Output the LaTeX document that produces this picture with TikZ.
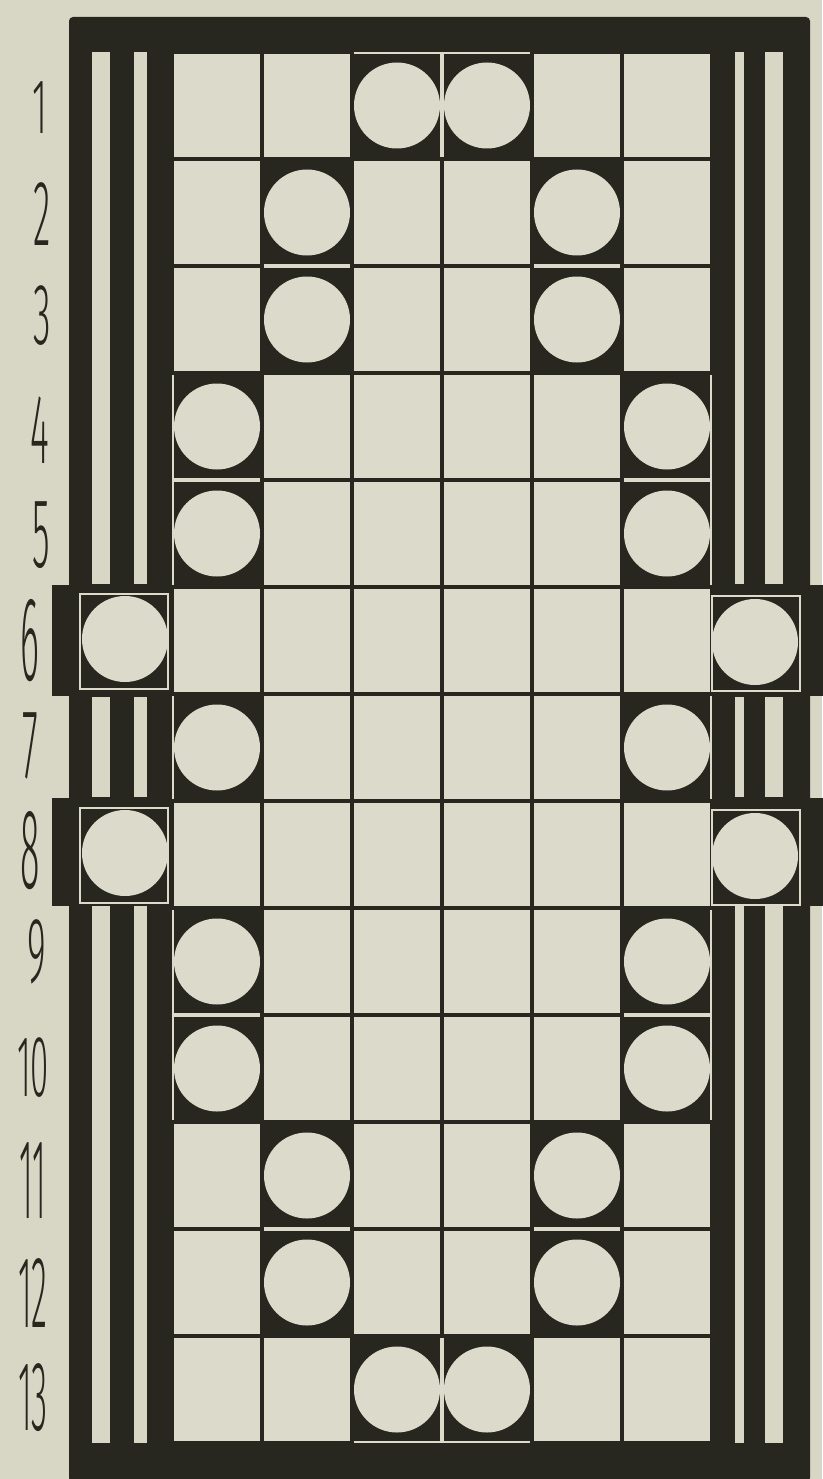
\documentclass[tikz,border=0pt]{standalone}
\usepackage{fontspec}
\newfontfamily\thinfont{Fira Sans Light}
\definecolor{paper}{HTML}{D8D7C6}
\definecolor{cellc}{HTML}{DCDBCB}
\definecolor{ink}{HTML}{28271F}
\tikzset{
  darkfill/.style={fill=ink, draw=none},
  stripe/.style={fill=paper, draw=none},
  lightcell/.style={fill=cellc, draw=ink, line width=4.5pt},
  fineline/.style={draw=cellc, line width=1.8pt},
  piece/.style={fill=cellc, draw=none},
  rowlabel/.style={inner sep=0pt, text=ink}
}
\newcommand{\lbl}[3]{\scalebox{#1}[#2]{\fontsize{60}{60}\selectfont\thinfont #3}}
\begin{document}
\begin{tikzpicture}[x=1pt,y=-1pt]
\useasboundingbox[fill=paper] (0,0) rectangle (822,1479);
% outer frame
\fill[ink, rounded corners=4pt] (69,17) rectangle (810,1482);
% side bands of rows 6 and 8
\fill[ink] (52,585) rectangle (830,696);
\fill[ink] (52,798) rectangle (830,906);
% light stripes
\foreach \ya/\yb in {52/584, 697/797, 906/1443}{
  \fill[stripe] (92,\ya) rectangle (110,\yb);
  \fill[stripe] (134,\ya) rectangle (147,\yb);
  \fill[stripe] (735,\ya) rectangle (744,\yb);
  \fill[stripe] (765,\ya) rectangle (783,\yb);
}
% fine outlines of dark cells
\foreach \r/\a in {1/3,2/2,3/2,4/1,5/1,7/1,9/1,10/1,11/2,12/2,13/3}{
  \pgfmathsetmacro{\b}{int(7-\a)}
  \foreach \c in {\a,\b}{
    \draw[fineline] ({172+90*(\c-1)+1},{52+107*(\r-1)+1}) rectangle ({172+90*\c-1},{52+107*\r-1});
  }
}
% light cells
\foreach \r/\a in {1/3,2/2,3/2,4/1,5/1,6/0,7/1,8/0,9/1,10/1,11/2,12/2,13/3}{
  \pgfmathsetmacro{\b}{int(7-\a)}
  \foreach \c in {1,...,6}{
    \ifnum\c=\a\relax\else\ifnum\c=\b\relax\else
      \draw[lightcell] ({172+90*(\c-1)},{52+107*(\r-1)}) rectangle ({172+90*\c},{52+107*\r});
    \fi\fi
  }
}
% pieces in the grid
\foreach \r/\a in {1/3,2/2,3/2,4/1,5/1,7/1,9/1,10/1,11/2,12/2,13/3}{
  \pgfmathsetmacro{\b}{int(7-\a)}
  \foreach \c in {\a,\b}{
    \fill[piece] ({172+90*\c-45},{52+107*\r-53.5}) circle (43);
  }
}
% side boxes of rows 6 and 8
\foreach \r in {6,8}{
  \draw[fineline] (80,{52+107*(\r-1)+7}) rectangle (168,{52+107*\r-5});
  \draw[fineline] (712,{52+107*(\r-1)+9}) rectangle (800,{52+107*\r-3});
  \fill[piece] (125,{52+107*\r-55}) circle (43);
  \fill[piece] (755,{52+107*\r-52}) circle (43);
}
% row labels
\node[rowlabel] (n1)  at (40,108)  {\lbl{0.6}{1.3}{1}};
\node[rowlabel] (n2)  at (42,214)  {\lbl{0.6}{1.55}{2}};
\node[rowlabel] (n3)  at (42,316)  {\lbl{0.6}{1.45}{3}};
\node[rowlabel] (n4)  at (40,430)  {\lbl{0.6}{1.65}{4}};
\node[rowlabel] (n5)  at (41,535)  {\lbl{0.6}{1.65}{5}};
\node[rowlabel] (n6)  at (30,641)  {\lbl{0.6}{2.0}{6}};
\node[rowlabel] (n7)  at (30,746)  {\lbl{0.6}{1.65}{7}};
\node[rowlabel] (n8)  at (30,851)  {\lbl{0.6}{1.9}{8}};
\node[rowlabel] (n9)  at (37,952)  {\lbl{0.6}{1.55}{9}};
\node[rowlabel] (n10) at (33,1068) {\lbl{0.55}{1.45}{10}};
\node[rowlabel] (n11) at (33,1181) {\lbl{0.55}{1.9}{11}};
\node[rowlabel] (n12) at (33,1293) {\lbl{0.55}{1.7}{12}};
\node[rowlabel] (n13) at (33,1398) {\lbl{0.55}{1.65}{13}};
\end{tikzpicture}
\end{document}
